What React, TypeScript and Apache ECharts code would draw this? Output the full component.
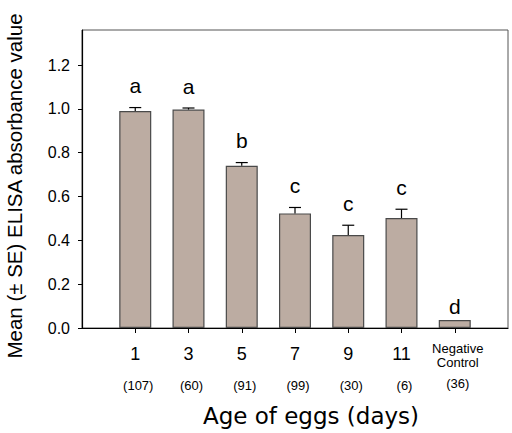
import React, { useEffect, useRef } from "react";
import * as echarts from "echarts";

const categories = ["1", "3", "5", "7", "9", "11", "Negative Control"];
const sampleSizes = ["(107)", "(60)", "(91)", "(99)", "(30)", "(6)", "(36)"];
const means = [0.99, 0.997, 0.74, 0.523, 0.424, 0.502, 0.036];
const errors = [0.016, 0.007, 0.015, 0.027, 0.045, 0.04, 0];
const letters = ["a", "a", "b", "c", "c", "c", "d"];
const yTicks = [0, 0.2, 0.4, 0.6, 0.8, 1.0, 1.2];

export default function App() {
  const ref = useRef<HTMLDivElement>(null);
  useEffect(() => {
    if (!ref.current) return;
    const chart = echarts.init(ref.current, undefined, { renderer: "svg" });
    const xData = ["", ...categories, ""];
    const barData: any[] = ["-", ...means, "-"];
    const errData = means.map((m, i) => [i + 1, m, errors[i], letters[i]]);
    const font = "'Liberation Sans', Arial, sans-serif";
    const titleFont = "'DejaVu Sans', sans-serif";
    chart.setOption({
      animation: false,
      backgroundColor: "#fff",
      grid: {
        left: 82,
        right: 4,
        top: 30,
        bottom: 105,
        show: true,
        borderColor: "#555",
        borderWidth: 1,
        backgroundColor: "transparent",
      },
      xAxis: {
        type: "category",
        data: xData,
        boundaryGap: false,
        axisLine: { lineStyle: { color: "#000", width: 1.2 } },
        axisTick: {
          show: true,
          length: 5,
          interval: (idx: number) => idx > 0 && idx < xData.length - 1,
          lineStyle: { color: "#000" },
        },
        axisLabel: {
          interval: 0,
          margin: 13,
          color: "#000",
          fontFamily: font,
          formatter: (v: string) => {
            const i = categories.indexOf(v);
            if (i < 0) return "";
            if (v === "Negative Control") {
              return `{c|Negative}\n{c|Control}\n{n|${sampleSizes[i]}}`;
            }
            return `{a|${v}}\n{b|${sampleSizes[i]}}`;
          },
          rich: {
            a: { fontSize: 18, lineHeight: 26, fontFamily: font, color: "#000" },
            b: { fontSize: 13, lineHeight: 36, fontFamily: font, color: "#000", padding: [0, 0, 0, 6] },
            c: { fontSize: 13, lineHeight: 14, fontFamily: font, color: "#000", padding: [0, 0, 0, 6] },
            n: { fontSize: 13, lineHeight: 28, fontFamily: font, color: "#000", padding: [0, 0, 0, 6] },
          },
        },
        splitLine: { show: false },
      },
      yAxis: {
        type: "value",
        min: 0,
        max: 1.36,
        interval: 0.2,
        axisLine: { show: true, lineStyle: { color: "#000", width: 1.2 } },
        axisTick: {
          show: true,
          length: 4,
          customValues: yTicks,
          lineStyle: { color: "#000" },
        },
        axisLabel: {
          customValues: yTicks,
          formatter: (v: number) => v.toFixed(1),
          color: "#000",
          fontSize: 16,
          fontFamily: font,
          margin: 12,
        },
        splitLine: { show: false },
      },
      graphic: [
        {
          type: "text",
          x: 14,
          y: 186,
          rotation: Math.PI / 2,
          style: {
            text: "Mean (± SE) ELISA absorbance value",
            fontSize: 20.5,
            fontFamily: font,
            fill: "#000",
            align: "center",
            verticalAlign: "middle",
          },
        },
        {
          type: "text",
          x: 311,
          y: 416,
          style: {
            text: "Age of eggs (days)",
            fontSize: 23,
            fontFamily: titleFont,
            fill: "#000",
            align: "center",
            verticalAlign: "middle",
          },
        },
      ],
      series: [
        {
          type: "bar",
          data: barData,
          barWidth: 32,
          itemStyle: { color: "#bcaca2", borderColor: "#4a4a4a", borderWidth: 1.2 },
          z: 2,
        },
        {
          type: "custom",
          data: errData,
          z: 3,
          renderItem: (params: any, api: any) => {
            const x = api.value(0);
            const m = api.value(1);
            const e = api.value(2);
            const letter = letters[params.dataIndex];
            const base = api.coord([x, m]);
            const top = api.coord([x, m + e]);
            const children: any[] = [];
            if (e > 0) {
              children.push({
                type: "line",
                shape: { x1: base[0], y1: base[1], x2: top[0], y2: top[1] },
                style: { stroke: "#000", lineWidth: 1.2 },
              });
              children.push({
                type: "line",
                shape: { x1: top[0] - 6, y1: top[1], x2: top[0] + 6, y2: top[1] },
                style: { stroke: "#000", lineWidth: 1.2 },
              });
            }
            const gap = e > 0 ? 15 : 7;
            children.push({
              type: "text",
              x: top[0],
              y: top[1] - gap - 7,
              style: {
                text: letter,
                fontSize: 21,
                fontFamily: font,
                fill: "#000",
                align: "center",
                verticalAlign: "middle",
              },
            });
            return { type: "group", children };
          },
        },
      ],
    });
    return () => chart.dispose();
  }, []);
  return (
    <div
      ref={ref}
      style={{ position: "fixed", left: 0, top: 0, width: 512, height: 433, background: "#fff" }}
    />
  );
}
